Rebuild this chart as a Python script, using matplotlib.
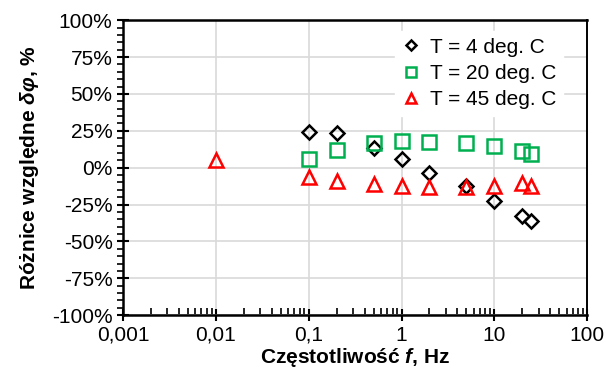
import matplotlib
matplotlib.use("Agg")
import matplotlib.pyplot as plt
from matplotlib.ticker import FixedLocator, FuncFormatter, MultipleLocator, LogLocator, NullFormatter

plt.rcParams['font.family'] = ['Liberation Sans', 'DejaVu Sans']
plt.rcParams['mathtext.fontset'] = 'custom'
plt.rcParams['mathtext.it'] = 'Liberation Sans:italic:bold'
plt.rcParams['mathtext.rm'] = 'Liberation Sans:bold'
plt.rcParams['mathtext.bf'] = 'Liberation Sans:bold'

freq = [0.1, 0.2, 0.5, 1, 2, 5, 10, 20, 25]
freq45 = [0.01, 0.1, 0.2, 0.5, 1, 2, 5, 10, 20, 25]
t4 = [24.3, 23.2, 13.0, 6.2, -3.5, -12.5, -22.5, -32.9, -36.3]
t20 = [5.8, 11.9, 16.4, 18.2, 17.5, 16.4, 14.6, 11.4, 9.2]
t45 = [5.0, -6.1, -8.8, -11.0, -12.4, -12.9, -13.3, -12.4, -10.2, -12.4]
labels = ['T = 4 deg. C', 'T = 20 deg. C', 'T = 45 deg. C']
xticks = [0.001, 0.01, 0.1, 1, 10, 100]
xticklabels = ['0,001', '0,01', '0,1', '1', '10', '100']

fig = plt.figure(figsize=(6.06, 3.73), dpi=100)
ax = fig.add_axes([0.203, 0.155, 0.766, 0.791])

ax.plot(freq, [v / 100 for v in t4], linestyle='none', marker='D', markersize=7,
        markerfacecolor='none', markeredgecolor='black', markeredgewidth=1.8, label=labels[0], zorder=3)
ax.plot(freq, [v / 100 for v in t20], linestyle='none', marker='s', markersize=9.5,
        markerfacecolor='none', markeredgecolor='#00B050', markeredgewidth=1.8, label=labels[1], zorder=4)
ax.plot(freq45, [v / 100 for v in t45], linestyle='none', marker='^', markersize=10,
        markerfacecolor='none', markeredgecolor='#FF0000', markeredgewidth=1.8, label=labels[2], zorder=5)

ax.set_xscale('log')
ax.set_xlim(0.001, 100)
ax.set_ylim(-1.0, 1.0)
ax.xaxis.set_major_locator(FixedLocator(xticks))
ax.xaxis.set_major_formatter(FuncFormatter(lambda v, p: xticklabels[xticks.index(min(xticks, key=lambda t: abs(t - v)))]))
ax.xaxis.set_minor_locator(LogLocator(base=10, subs=range(2, 10)))
ax.xaxis.set_minor_formatter(NullFormatter())
ax.yaxis.set_major_locator(MultipleLocator(0.25))
ax.yaxis.set_minor_locator(MultipleLocator(0.05))
ax.yaxis.set_major_formatter(FuncFormatter(lambda v, p: f"{round(v * 100):d}%"))

ax.grid(True, which='major', color='#d9d9d9', linewidth=1.2, zorder=0)
ax.set_axisbelow(True)

ax.tick_params(axis='both', which='major', direction='inout', length=9, width=1.5, labelsize=15, pad=3)
ax.tick_params(axis='x', which='minor', direction='in', length=5, width=1.2)
ax.tick_params(axis='y', which='minor', direction='out', length=4, width=1.2)
ax.tick_params(axis='both', which='both', top=False, right=False)

for side in ['left', 'bottom', 'top']:
    ax.spines[side].set_linewidth(1.8)
ax.spines['right'].set_linewidth(1.4)

ax.set_xlabel(r'Częstotliwość $f$, Hz', fontsize=15, fontweight='bold', labelpad=1)
ax.set_ylabel(r'Różnice względne $\delta\varphi$, %', fontsize=15, fontweight='bold', labelpad=8)

leg = ax.legend(loc='upper right', bbox_to_anchor=(0.965, 0.99), fontsize=15, frameon=True,
                facecolor='white', edgecolor='white', framealpha=1, fancybox=False, markerscale=0.7,
                handlelength=1.0, handletextpad=0.4, labelspacing=0.35, borderaxespad=0.4, borderpad=0.3)
leg.set_zorder(6)

fig.savefig('out.png', dpi=100)
